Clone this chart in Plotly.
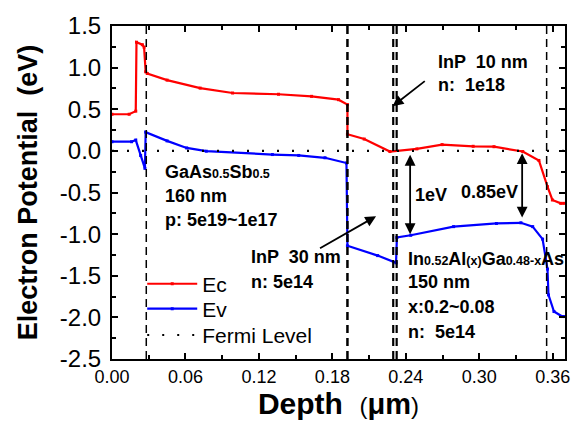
import plotly.graph_objects as go

# ---------------- data ----------------
ec_x = [0.000, 0.014, 0.0194, 0.0200, 0.0248, 0.0262, 0.0275, 0.0288, 0.045, 0.072, 0.0985,
        0.136, 0.163, 0.185, 0.1923, 0.1923, 0.206, 0.227, 0.249, 0.2696, 0.295, 0.312,
        0.3355, 0.3487, 0.3557, 0.3597, 0.3665, 0.3690]
ec_y = [0.44, 0.44, 0.477, 1.305, 1.275, 1.246, 0.95, 0.93, 0.85, 0.754, 0.695,
        0.68, 0.655, 0.615, 0.556, 0.20, 0.142, -0.008, 0.024, 0.075, 0.055, 0.05,
        -0.008, -0.115, -0.43, -0.59, -0.63, -0.63]

ev_x = [0.000, 0.016, 0.0194, 0.0234, 0.0269, 0.0275, 0.045, 0.061, 0.077, 0.131, 0.1525,
        0.174, 0.1915, 0.1923, 0.217, 0.232, 0.2327, 0.244, 0.279, 0.314, 0.334, 0.3436,
        0.3517, 0.3557, 0.3565, 0.361, 0.3678, 0.3690]
ev_y = [0.11, 0.11, 0.13, -0.056, -0.21, 0.225, 0.12, 0.035, -0.004, -0.044, -0.055,
        -0.083, -0.146, -1.14, -1.258, -1.345, -1.04, -1.014, -0.91, -0.872, -0.864, -0.91,
        -1.06, -1.42, -1.73, -1.93, -1.99, -1.99]

fermi_x = [0.0, 0.37]
fermi_y = [0.0, 0.0]

boundaries = [0.028, 0.1923, 0.2297, 0.2325, 0.355]
boundary_widths = [1.5, 2.5, 2.2, 2.2, 1.5]

x_tickvals = [0.00, 0.06, 0.12, 0.18, 0.24, 0.30, 0.36]
x_ticktext = ["0.00", "0.06", "0.12", "0.18", "0.24", "0.30", "0.36"]
y_tickvals = [-2.5, -2.0, -1.5, -1.0, -0.5, 0.0, 0.5, 1.0, 1.5]
y_ticktext = ["-2.5", "-2.0", "-1.5", "-1.0", "-0.5", "0.0", "0.5", "1.0", "1.5"]

FONT = "Arial, Liberation Sans, sans-serif"

fig = go.Figure()
fig.add_trace(go.Scatter(x=ec_x, y=ec_y, mode="lines+markers", name="Ec", legend="legend",
                         line=dict(color="#ff0000", width=2.2),
                         marker=dict(symbol="square", size=3, color="#ff0000")))
fig.add_trace(go.Scatter(x=ev_x, y=ev_y, mode="lines+markers", name="Ev", legend="legend2",
                         line=dict(color="#0000ff", width=2.2),
                         marker=dict(symbol="square", size=3, color="#0000ff")))
fig.add_trace(go.Scatter(x=fermi_x, y=fermi_y, mode="lines", name="Fermi Level", legend="legend3",
                         line=dict(color="black", width=2.2, dash="2px,13px")))

for b, w in zip(boundaries, boundary_widths):
    fig.add_shape(type="line", xref="x", yref="paper", x0=b, x1=b, y0=0, y1=1,
                  line=dict(color="black", width=w, dash="8px,5px"), layer="above")


def sub(t):
    return "<span style='font-size:12.5px'>" + t + "</span>"


bold = dict(family=FONT, size=18, color="black")
ann = [
    dict(x=0.042, y=-0.25, text="<b>GaAs" + sub("0.5") + "Sb" + sub("0.5") + "</b>"),
    dict(x=0.042, y=-0.54, text="<b>160 nm</b>"),
    dict(x=0.042, y=-0.83, text="<b>p: 5e19~1e17</b>"),
    dict(x=0.1123, y=-1.27, text="<b>InP  30 nm</b>"),
    dict(x=0.1123, y=-1.57, text="<b>n: 5e14</b>"),
    dict(x=0.2647, y=1.065, text="<b>InP  10 nm</b>"),
    dict(x=0.2647, y=0.79, text="<b>n:  1e18</b>"),
    dict(x=0.2399, y=-1.30, text="<b>In" + sub("0.52") + "Al" + sub("(x)") + "Ga" + sub("0.48-x") + "As</b>"),
    dict(x=0.2399, y=-1.574, text="<b>150 nm</b>"),
    dict(x=0.2399, y=-1.87, text="<b>x:0.2~0.08</b>"),
    dict(x=0.2399, y=-2.17, text="<b>n:  5e14</b>"),
    dict(x=0.2455, y=-0.53, text="<b>1eV</b>"),
    dict(x=0.2833, y=-0.49, text="<b>0.85eV</b>"),
]
for a in ann:
    fig.add_annotation(x=a["x"], y=a["y"], text=a["text"], showarrow=False,
                       xanchor="left", yanchor="middle", font=bold)

# arrows
arrows = [
    dict(x=0.2292, y=0.536, ax=0.2567, ay=0.852),
    dict(x=0.2157, y=-0.785, ax=0.1687, ay=-1.18),
]
for a in arrows:
    fig.add_annotation(x=a["x"], y=a["y"], ax=a["ax"], ay=a["ay"], xref="x", yref="y",
                       axref="x", ayref="y", text="", showarrow=True, arrowhead=2,
                       arrowsize=1.2, arrowwidth=1.8, arrowcolor="black")
dbl = [
    dict(x=0.2435, y1=-0.03, y2=-1.0),
    dict(x=0.335, y1=-0.01, y2=-0.80),
]
for a in dbl:
    fig.add_annotation(x=a["x"], y=a["y2"], ax=a["x"], ay=a["y1"], xref="x", yref="y",
                       axref="x", ayref="y", text="", showarrow=True, arrowhead=2,
                       startarrowhead=2, arrowside="end+start", arrowsize=1.2,
                       startarrowsize=1.2, arrowwidth=1.8, arrowcolor="black")

leg_common = dict(x=0.0667, xanchor="left", yanchor="middle",
                  bgcolor="rgba(0,0,0,0)", borderwidth=0,
                  font=dict(family=FONT, size=21, color="black"), itemwidth=50)

fig.update_layout(
    width=582, height=432,
    margin=dict(l=112, r=13, t=21, b=73),
    plot_bgcolor="white", paper_bgcolor="white",
    font=dict(family=FONT, color="black"),
    showlegend=True,
    legend=dict(y=0.2249, **leg_common),
    legend2=dict(y=0.150, **leg_common),
    legend3=dict(y=0.071, **leg_common),
)
fig.update_xaxes(
    range=[0, 0.37], tickvals=x_tickvals, ticktext=x_ticktext,
    ticks="inside", ticklen=6, tickwidth=2, tickcolor="black",
    minor=dict(dtick=0.03, tick0=0, ticks="inside", ticklen=4, tickwidth=2, tickcolor="black"),
    showline=True, linewidth=2, linecolor="black", mirror="ticks",
    showgrid=False, zeroline=False,
    tickfont=dict(family=FONT, size=18, color="black"),
    title=dict(text="\u00a0\u00a0\u00a0<b>Depth</b>\u00a0\u00a0<span style='font-size:24px'>(</span>"
                    "<span style='font-size:29px'><b>μm</b></span>"
                    "<span style='font-size:24px'>)</span>",
               font=dict(family=FONT, size=30, color="black"), standoff=6),
)
fig.update_yaxes(
    range=[-2.5, 1.5], tickvals=y_tickvals, ticktext=y_ticktext,
    ticks="inside", ticklen=6, tickwidth=2, tickcolor="black",
    minor=dict(dtick=0.25, tick0=0, ticks="inside", ticklen=4, tickwidth=2, tickcolor="black"),
    showline=True, linewidth=2, linecolor="black", mirror="ticks",
    showgrid=False, zeroline=False, ticklabelstandoff=4,
    tickfont=dict(family=FONT, size=24, color="black"),
    title=dict(text="<b>Electron Potential  (eV)</b>",
               font=dict(family=FONT, size=27, color="black"), standoff=14),
)

fig.write_html("out.html")
